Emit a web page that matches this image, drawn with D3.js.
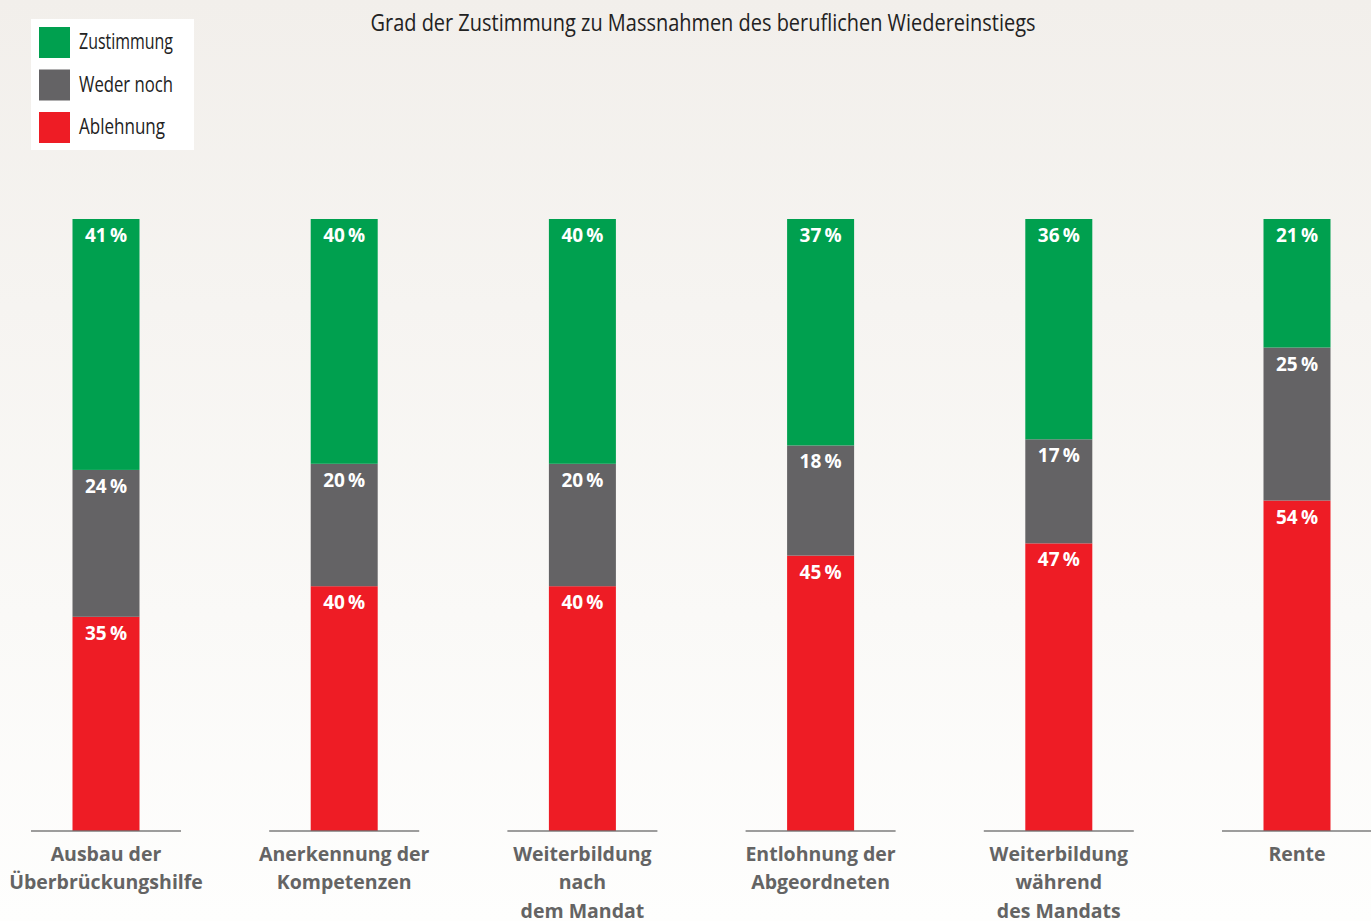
<!DOCTYPE html>
<html><head><meta charset="utf-8">
<script src="https://cdn.jsdelivr.net/npm/d3@7"></script>
<style>
html,body{margin:0;padding:0;}
body{width:1371px;height:921px;overflow:hidden;}
</style></head>
<body>
<svg id="chart" width="1371" height="921"></svg>
<script>
const title = "Grad der Zustimmung zu Massnahmen des beruflichen Wiedereinstiegs";
const categories = [
  ["Ausbau der","Überbrückungshilfe"],
  ["Anerkennung der","Kompetenzen"],
  ["Weiterbildung","nach","dem Mandat"],
  ["Entlohnung der","Abgeordneten"],
  ["Weiterbildung","während","des Mandats"],
  ["Rente"]
];
const seriesNames = ["Zustimmung","Weder noch","Ablehnung"];
const zustimmung = [41,40,40,37,36,21];
const wederNoch  = [24,20,20,18,17,25];
const ablehnung  = [35,40,40,45,47,54];
const colors = ["#00a04f","#646365","#ee1c25"];

const svg = d3.select("#chart");
const W = 1371, H = 921;

const defs = svg.append("defs");
const grad = defs.append("linearGradient").attr("id","bg").attr("x1",0).attr("y1",0).attr("x2",0).attr("y2",1);
grad.append("stop").attr("offset","0%").attr("stop-color","#f2efeb");
grad.append("stop").attr("offset","100%").attr("stop-color","#fefefd");
svg.append("rect").attr("width",W).attr("height",H).attr("fill","url(#bg)");

const keys = categories.map((c,i)=>"c"+i);
const rows = keys.map((k,i)=>({key:k, "Ablehnung":ablehnung[i], "Weder noch":wederNoch[i], "Zustimmung":zustimmung[i]}));
const stack = d3.stack().keys(["Ablehnung","Weder noch","Zustimmung"]);
const stacked = stack(rows);

const x = d3.scalePoint().domain(keys).range([106,1297]);
const y = d3.scaleLinear().domain([0,100]).range([831,219]);
const bw = 67;
const colorOf = d3.scaleOrdinal().domain(seriesNames).range(colors);

const g = svg.append("g");
stacked.forEach(layer=>{
  const lg = g.append("g");
  lg.selectAll("rect").data(layer).join("rect")
    .attr("x",d=>x(d.data.key)-bw/2)
    .attr("width",bw)
    .attr("y",d=>y(d[1]))
    .attr("height",d=>y(d[0])-y(d[1]))
    .attr("fill",colorOf(layer.key));
  lg.selectAll("text").data(layer).join("text")
    .attr("x",d=>x(d.data.key))
    .attr("y",d=>y(d[1])+23)
    .attr("text-anchor","middle")
    .attr("fill","#fff")
    .attr("font-family","'Open Sans', sans-serif")
    .attr("font-weight","bold")
    .attr("font-size","19px")
    .text(d=>(d[1]-d[0])+"\u2009%");
});

g.selectAll("line.base").data(keys).join("line")
  .attr("class","base")
  .attr("x1",k=>x(k)-75).attr("x2",k=>x(k)+75)
  .attr("y1",y(0)).attr("y2",y(0))
  .attr("stroke","#6e6e6e").attr("stroke-width",1.6).attr("stroke-opacity",0.9);

const lab = g.selectAll("text.cat").data(keys).join("text")
  .attr("class","cat")
  .attr("text-anchor","middle")
  .attr("fill","#646464")
  .attr("font-family","'Open Sans', sans-serif")
  .attr("font-weight","bold")
  .attr("font-size","19.5px");
lab.each(function(k,i){
  const t = d3.select(this);
  categories[i].forEach((line,j)=>{
    t.append("tspan").attr("x",x(k)).attr("y",861+j*28.3).text(line);
  });
});

svg.append("text")
  .attr("x",703).attr("y",31)
  .attr("text-anchor","middle")
  .attr("fill","#222")
  .attr("font-family","'Open Sans',sans-serif")
  .attr("font-size","23px")
  .attr("textLength",665).attr("lengthAdjust","spacingAndGlyphs")
  .text(title);

const leg = svg.append("g");
leg.append("rect").attr("x",31).attr("y",19).attr("width",163).attr("height",131).attr("fill","#fff");
const li = leg.selectAll("g.li").data(seriesNames).join("g").attr("class","li")
  .attr("transform",(d,i)=>`translate(39,${27+i*42.5})`);
li.append("rect").attr("width",31).attr("height",31).attr("fill",d=>colorOf(d));
const legLen = [94,94,86];
li.append("text").attr("x",40).attr("y",22)
  .attr("fill","#222")
  .attr("font-family","'Open Sans',sans-serif")
  .attr("font-size","21px")
  .attr("textLength",(d,i)=>legLen[i]).attr("lengthAdjust","spacingAndGlyphs")
  .text(d=>d);
</script>
</body></html>
